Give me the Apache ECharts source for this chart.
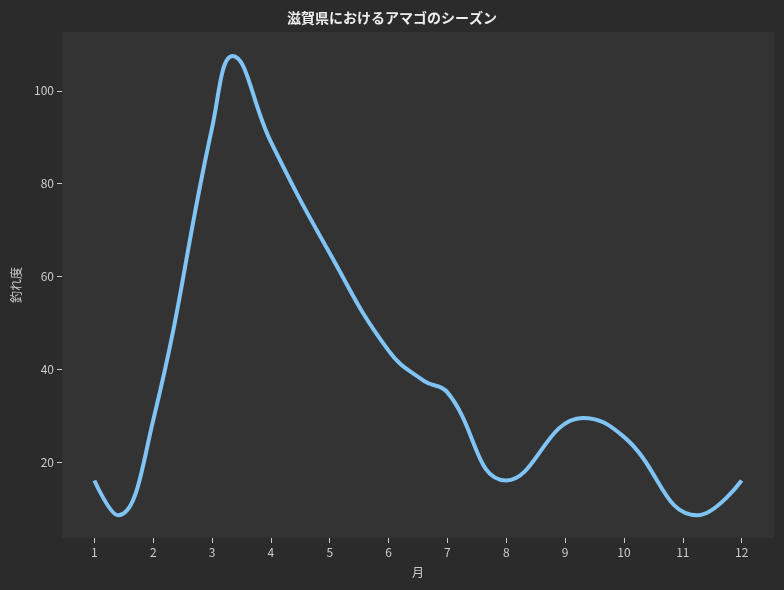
<!DOCTYPE html>
<html><head><meta charset="utf-8">
<script src="https://cdn.jsdelivr.net/npm/echarts@6/dist/echarts.min.js"></script>
<style>html,body{margin:0;background:#2b2b2b}#c{width:784px;height:590px}</style>
</head><body><div id="c"></div>
<script>
const months = [1,1.4,2,3,3.35,4,5,6,6.6,7,8,9.3,10,11.25,12];
const values = [16,8.5,29,92,107.5,89,65,44,37.5,35,16,29.5,25.4,8.5,16];
const xTicks = [1,2,3,4,5,6,7,8,9,10,11,12];
const yTicks = [20,40,60,80,100];
const chart = echarts.init(document.getElementById('c'));
const font = "'Noto Sans CJK JP', 'Noto Sans', sans-serif";
chart.setOption({
  backgroundColor:'#2b2b2b',
  title:{text:'滋賀県におけるアマゴのシーズン',left:'center',top:6,textStyle:{color:'#eeeeee',fontSize:14,fontWeight:'bold',fontFamily:font}},
  grid:{left:62,right:10,top:32,bottom:52,show:true,backgroundColor:'#333333',borderWidth:0},
  xAxis:{type:'value',min:0.45,max:12.55,name:'月',nameLocation:'middle',nameGap:28,
    nameTextStyle:{color:'#cccccc',fontSize:12,fontFamily:font},
    axisLine:{show:false},splitLine:{show:false},
    axisTick:{show:true,customValues:xTicks,lineStyle:{color:'#cccccc'}},
    axisLabel:{customValues:xTicks,color:'#cccccc',fontSize:12,fontFamily:font}},
  yAxis:{type:'value',min:3.6,max:112.7,name:'釣れ度',nameLocation:'middle',nameGap:40,
    nameTextStyle:{color:'#cccccc',fontSize:12,fontFamily:font},
    axisLine:{show:false},splitLine:{show:false},
    axisTick:{show:true,customValues:yTicks,lineStyle:{color:'#cccccc'}},
    axisLabel:{customValues:yTicks,color:'#cccccc',fontSize:12,fontFamily:font}},
  series:[{type:'line',data:months.map((m,i)=>[m,values[i]]),smooth:0.45,showSymbol:false,
    lineStyle:{color:'#7fc4f5',width:4}}]
});
</script></body></html>
